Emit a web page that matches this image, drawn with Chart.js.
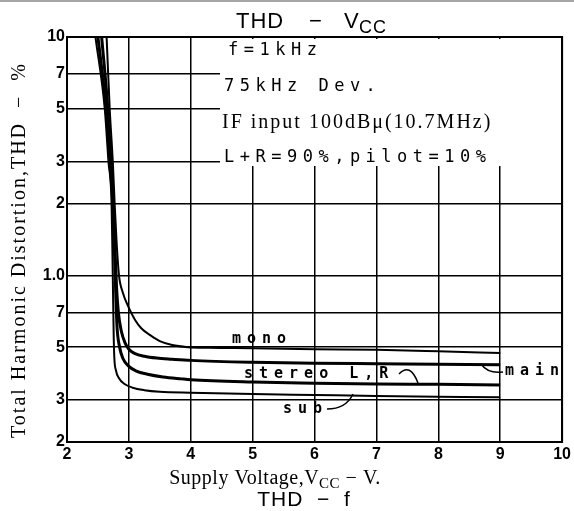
<!DOCTYPE html>
<html>
<head>
<meta charset="utf-8">
<script src="https://cdn.jsdelivr.net/npm/chart.js@4.4.0/dist/chart.umd.min.js"></script>
<style>
  body { margin: 0; background: #fff; }
  #graficoTHD { display: block; }
</style>
</head>
<body>
<canvas id="graficoTHD" width="574" height="511"></canvas>
<script>
// THD (%) against supply voltage (V), one pair of arrays per curve
const vccMono = [2.64, 2.69, 2.74, 2.77, 2.8, 2.84, 2.9, 3.0, 3.1, 3.2, 3.35, 3.5, 3.7, 3.95, 4.3, 5, 6, 7, 8, 9];
const thdMono = [10, 5, 3, 2, 1.4, 1.0, 0.85, 0.73, 0.65, 0.6, 0.56, 0.53, 0.51, 0.5, 0.497, 0.495, 0.49, 0.487, 0.48, 0.472];

const vccMain = [2.56, 2.66, 2.71, 2.75, 2.78, 2.8, 2.83, 2.88, 2.94, 3.0, 3.1, 3.25, 3.45, 3.7, 4.0, 5, 6, 7, 8, 9];
const thdMain = [10, 5, 3, 2, 1.2, 0.9, 0.7, 0.58, 0.52, 0.49, 0.47, 0.458, 0.45, 0.445, 0.44, 0.432, 0.428, 0.426, 0.424, 0.422];

const vccStereo = [2.5, 2.63, 2.69, 2.74, 2.77, 2.79, 2.81, 2.85, 2.9, 3.0, 3.12, 3.3, 3.55, 3.85, 4.0, 5, 6, 7, 8, 9];
const thdStereo = [10, 5, 3, 2, 1.2, 0.8, 0.6, 0.5, 0.45, 0.415, 0.397, 0.385, 0.375, 0.368, 0.365, 0.357, 0.353, 0.35, 0.349, 0.347];

const vccSub = [2.46, 2.61, 2.67, 2.72, 2.735, 2.745, 2.755, 2.765, 2.79, 2.84, 2.93, 3.06, 3.25, 3.5, 4.0, 5, 6, 7, 8, 9];
const thdSub = [10, 5, 3, 2, 1.2, 0.8, 0.55, 0.45, 0.4, 0.37, 0.35, 0.338, 0.33, 0.325, 0.322, 0.318, 0.315, 0.312, 0.31, 0.308];

const yTicks = [0.2, 0.3, 0.5, 0.7, 1, 2, 3, 5, 7, 10];

const SANS = '"Liberation Sans", Arial, sans-serif';
const SERIF = '"Liberation Serif", "DejaVu Serif", serif';
const MONO = '"DejaVu Sans Mono", "Liberation Mono", monospace';

function pontos(xs, ys) {
  return xs.map((x, i) => ({ x: x, y: ys[i] }));
}

function curva(dados, largura) {
  return {
    data: dados,
    showLine: true,
    borderColor: "#000",
    backgroundColor: "#000",
    borderWidth: largura,
    pointRadius: 0,
    cubicInterpolationMode: "monotone",
  };
}

// texto com subscrito, ex.: V + CC
function textoSub(ctx, partes, x, y, tam, fonte) {
  let cx = x;
  partes.forEach((p) => {
    const t = p.sub ? tam * 0.75 : tam;
    ctx.font = t + "px " + fonte;
    ctx.fillText(p.t, cx, y + (p.sub ? tam * 0.22 : 0));
    cx += ctx.measureText(p.t).width;
  });
}

function larguraSub(ctx, partes, tam, fonte) {
  let w = 0;
  partes.forEach((p) => {
    ctx.font = (p.sub ? tam * 0.75 : tam) + "px " + fonte;
    w += ctx.measureText(p.t).width;
  });
  return w;
}

function seta(ctx, x0, y0, cx, cy, x1, y1) {
  ctx.beginPath();
  ctx.moveTo(x0, y0);
  ctx.quadraticCurveTo(cx, cy, x1, y1);
  ctx.stroke();
}

const pluginQuadro = {
  id: "quadro",
  beforeDatasetsDraw(chart) {
    // area branca das condicoes de medida (sem grade)
    const ctx = chart.ctx;
    const a = chart.chartArea;
    ctx.save();
    ctx.fillStyle = "#fff";
    ctx.fillRect(220, a.top + 2, a.right - 221, 164 - a.top);
    ctx.restore();
  },
  afterDraw(chart) {
    const ctx = chart.ctx;
    const a = chart.chartArea;
    ctx.save();
    ctx.fillStyle = "#000";
    ctx.strokeStyle = "#000";

    // moldura
    ctx.lineWidth = 2;
    ctx.strokeRect(a.left, a.top, a.right - a.left, a.bottom - a.top);
    ctx.strokeStyle = "#888";
    ctx.lineWidth = 1.5;
    ctx.beginPath();
    ctx.moveTo(0, 1);
    ctx.lineTo(574, 1);
    ctx.stroke();
    ctx.strokeStyle = "#000";

    // titulo
    ctx.textBaseline = "alphabetic";
    ctx.textAlign = "left";
    ctx.font = "22px " + SANS;
    ctx.letterSpacing = "1px";
    ctx.fillText("THD", 236, 28);
    ctx.fillText("\u2212", 309, 28);
    ctx.fillText("V", 344, 28);
    ctx.font = "18px " + SANS;
    ctx.fillText("CC", 359, 33);

    // condicoes
    ctx.letterSpacing = "5.5px";
    ctx.font = "17px " + MONO;
    ctx.fillText("f=1kHz", 228, 55);
    ctx.fillText("75kHz Dev.", 224, 91);
    ctx.fillText("L+R=90%,pilot=10%", 224, 162);
    ctx.letterSpacing = "2px";
    ctx.font = "20px " + SERIF;
    ctx.fillText("IF input 100dB\u03bc(10.7MHz)", 222, 128);

    // nomes das curvas
    ctx.letterSpacing = "6px";
    ctx.font = "bold 15px " + MONO;
    ctx.fillText("mono", 232, 343);
    ctx.fillText("stereo L,R", 244, 378);
    ctx.fillText("sub", 283, 413);
    ctx.fillText("main", 505, 375);
    ctx.letterSpacing = "0px";

    ctx.lineWidth = 1.5;
    seta(ctx, 399, 374, 410, 362, 418, 383);
    seta(ctx, 503, 372, 488, 374, 481, 364);
    seta(ctx, 327, 409, 346, 409, 353, 394);

    // titulo do eixo x
    ctx.letterSpacing = "0.5px";
    const partesX = [{ t: "Supply Voltage,V" }, { t: "CC", sub: true }, { t: " \u2212 V." }];
    const wx = larguraSub(ctx, partesX, 20, SERIF);
    textoSub(ctx, partesX, 275 - wx / 2, 484, 20, SERIF);

    // titulo do eixo y
    ctx.save();
    ctx.translate(25, 250);
    ctx.rotate(-Math.PI / 2);
    ctx.textAlign = "center";
    ctx.letterSpacing = "2px";
    ctx.font = "20px " + SERIF;
    ctx.fillText("Total Harmonic Distortion,THD  \u2212  %", 0, 0);
    ctx.restore();

    // titulo do grafico seguinte
    ctx.letterSpacing = "1px";
    ctx.textAlign = "center";
    ctx.font = "21px " + SANS;
    ctx.fillText("THD  \u2212  f", 304, 506);
    ctx.restore();
  },
};

const dadosTHD = {
  datasets: [
    curva(pontos(vccMono, thdMono), 2),
    curva(pontos(vccMain, thdMain), 3),
    curva(pontos(vccStereo, thdStereo), 3),
    curva(pontos(vccSub, thdSub), 2),
  ],
};

const configTHD = {
  type: "scatter",
  data: dadosTHD,
  options: {
    animation: false,
    responsive: false,
    layout: { padding: { top: 37, right: 11, left: 0, bottom: 0 } },
    plugins: { legend: { display: false }, tooltip: { enabled: false } },
    scales: {
      x: {
        type: "linear",
        min: 2,
        max: 10,
        ticks: {
          stepSize: 1,
          color: "#000",
          padding: 3,
          font: { family: SANS, size: 16, weight: "bold" },
        },
        grid: { color: "#000", lineWidth: 1.5, drawTicks: false },
        border: { color: "#000", width: 2 },
        afterFit(s) { s.height = 69; },
      },
      y: {
        type: "logarithmic",
        min: 0.2,
        max: 10,
        afterBuildTicks(s) { s.ticks = yTicks.map((v) => ({ value: v })); },
        ticks: {
          color: "#000",
          padding: 2,
          font: { family: SANS, size: 16, weight: "bold" },
          callback: (v) => (v === 1 ? "1.0" : v < 1 ? String(Math.round(v * 10)) : String(v)),
        },
        grid: { color: "#000", lineWidth: 1.5, drawTicks: false },
        border: { color: "#000", width: 2 },
        afterFit(s) { s.width = 67; },
      },
    },
  },
  plugins: [pluginQuadro],
};

const graficoTHD = new Chart(document.getElementById("graficoTHD"), configTHD);
</script>
</body>
</html>
